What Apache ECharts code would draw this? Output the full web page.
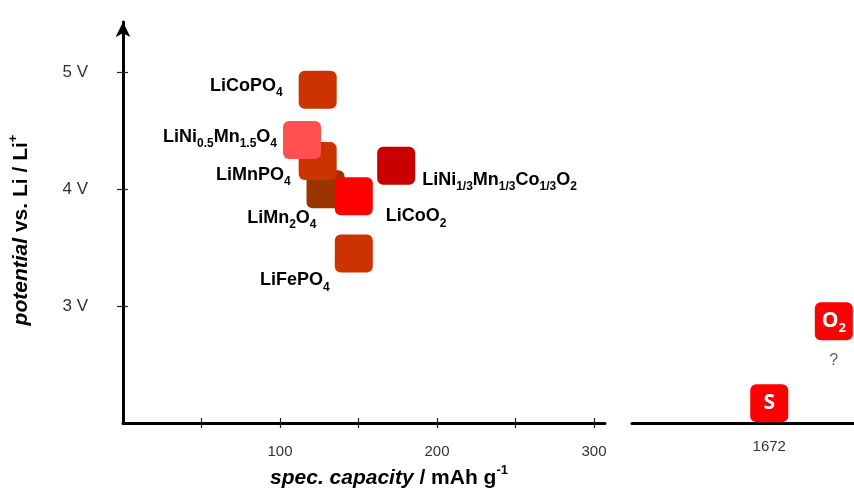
<!DOCTYPE html>
<html>
<head>
<meta charset="utf-8">
<script src="https://cdn.jsdelivr.net/npm/echarts@6/dist/echarts.min.js"></script>
<style>
html, body { margin: 0; padding: 0; background: #fff; }
#main { width: 854px; height: 488px; }
</style>
</head>
<body>
<div id="main"></div>
<script>
// cathode materials (left panel)
const materials = ['LiCoPO4', 'LiMn2O4', 'LiMnPO4', 'LiNi0.5Mn1.5O4', 'LiCoO2', 'LiNi1/3Mn1/3Co1/3O2', 'LiFePO4'];
const materialLabels = ['LiCoPO{s|4}', 'LiMn{s|2}O{s|4}', 'LiMnPO{s|4}', 'LiNi{s|0.5}Mn{s|1.5}O{s|4}', 'LiCoO{s|2}', 'LiNi{s|1/3}Mn{s|1/3}Co{s|1/3}O{s|2}', 'LiFePO{s|4}'];
const capacity = [124, 129, 124, 114, 147, 174, 147];
const potential = [4.85, 4.0, 4.24, 4.42, 3.94, 4.2, 3.45];

// conversion cathodes (right panel)
const elements = ['S', 'O2'];
const elementLabels = ['S', 'O{s|2}'];
const elementCapacity = [1672, 1800];
const elementPotential = [2.17, 2.87];

// axis ticks
const yTicks = [3, 4, 5];
const xTicks = [50, 100, 150, 200, 250, 300];
const xLabels = [100, 200, 300];
const x2Labels = [1672];

// colours
const materialColors = ['#CC3300', '#993300', '#CC3300', '#FF4F4F', '#FF0000', '#C80000', '#CC3300'];
const elementColor = '#FF0000';

// label offset from square centre: [dx, dy, align]
const labelPlace = {
    'LiCoPO4': [-35, -4, 'right'],
    'LiMn2O4': [-9, 29, 'right'],
    'LiMnPO4': [-27, 14, 'right'],
    'LiNi0.5Mn1.5O4': [-25, -3, 'right'],
    'LiCoO2': [32, 20, 'left'],
    'LiNi1/3Mn1/3Co1/3O2': [26, 14, 'left'],
    'LiFePO4': [-24, 27, 'right']
};

const SQ = 38;
const half = SQ / 2;
const squarePath = 'path://M6,0H32A6,6,0,0,1,38,6V32A6,6,0,0,1,32,38H6A6,6,0,0,1,0,32V6A6,6,0,0,1,6,0Z';
const font = '"Liberation Sans", Arial, sans-serif';
const boxFont = '"Open Sans", "Noto Sans", sans-serif';
const subRich = {
    s: { fontSize: 12, fontWeight: 'bold', fontFamily: font, color: '#000', lineHeight: 26, verticalAlign: 'bottom' }
};

const yMin = 2, yMax = 5.43;

const materialData = materials.map((m, i) => {
    const p = labelPlace[m];
    return {
        name: m,
        value: [capacity[i], potential[i]],
        itemStyle: { color: materialColors[i] },
        label: {
            formatter: materialLabels[i],
            position: [half + p[0], half + p[1]],
            align: p[2],
            verticalAlign: 'middle'
        }
    };
});

const elementData = elements.map((e, i) => ({
    name: e,
    value: [elementCapacity[i], elementPotential[i]],
    label: { formatter: elementLabels[i] }
}));

const tickStyle = { color: '#222', width: 1.2 };

const chart = echarts.init(document.getElementById('main'));
chart.setOption({
    animation: false,
    grid: [
        { left: 123, right: 249, top: 22, bottom: 65, containLabel: false, outerBoundsMode: 'none' },
        { left: 632, right: 0, top: 22, bottom: 65, containLabel: false, outerBoundsMode: 'none' }
    ],
    xAxis: [
        {
            gridIndex: 0, type: 'value', min: 0, max: 307, position: 'bottom',
            name: '{i|spec. capacity} / mAh g{sup|-1}',
            nameLocation: 'middle', nameGap: 41,
            nameTextStyle: {
                fontFamily: font, fontSize: 21, fontWeight: 'bold', color: '#000',
                lineHeight: 28, padding: [0, 0, 0, 50],
                rich: {
                    i: { fontFamily: font, fontSize: 21, fontWeight: 'bold', fontStyle: 'italic', color: '#000', lineHeight: 28 },
                    sup: { fontFamily: font, fontSize: 13, fontWeight: 'bold', color: '#000', lineHeight: 28, verticalAlign: 'top' }
                }
            },
            axisLine: { show: true, onZero: false, lineStyle: { color: '#000', width: 3 } },
            axisTick: { show: true, length: 5, customValues: xTicks, lineStyle: tickStyle },
            axisLabel: { customValues: xLabels, margin: 21, fontFamily: font, fontSize: 15, color: '#333' },
            splitLine: { show: false }
        },
        {
            gridIndex: 0, type: 'value', min: 0, max: 307, position: 'bottom',
            axisLine: { show: false },
            axisTick: { show: true, inside: true, length: 5, customValues: xTicks, lineStyle: tickStyle },
            axisLabel: { show: false },
            splitLine: { show: false }
        },
        {
            gridIndex: 1, type: 'value', min: 1400, max: 1840, position: 'bottom',
            axisLine: { show: true, onZero: false, lineStyle: { color: '#000', width: 3 } },
            axisTick: { show: false },
            axisLabel: {
                customValues: x2Labels, margin: 16, fontFamily: font, fontSize: 15, color: '#333',
                formatter: v => String(v)
            },
            splitLine: { show: false }
        }
    ],
    yAxis: [
        {
            gridIndex: 0, type: 'value', min: yMin, max: yMax, position: 'left',
            name: '{i|potential} vs. Li / Li{sup|+}',
            nameLocation: 'middle', nameGap: 88,
            nameTextStyle: {
                fontFamily: font, fontSize: 21, fontWeight: 'bold', color: '#000',
                lineHeight: 28, padding: [0, 15, 0, 0],
                rich: {
                    i: { fontFamily: font, fontSize: 21, fontWeight: 'bold', fontStyle: 'italic', color: '#000', lineHeight: 28 },
                    sup: { fontFamily: font, fontSize: 13, fontWeight: 'bold', color: '#000', lineHeight: 28, verticalAlign: 'top' }
                }
            },
            axisLine: {
                show: true, onZero: false, symbol: ['none', 'arrow'], symbolSize: [11, 15],
                lineStyle: { color: '#000', width: 3 }
            },
            axisTick: { show: true, length: 6, customValues: yTicks, lineStyle: tickStyle },
            axisLabel: {
                customValues: yTicks, margin: 35, fontFamily: font, fontSize: 17, color: '#333',
                formatter: v => v + ' V'
            },
            splitLine: { show: false }
        },
        {
            gridIndex: 0, type: 'value', min: yMin, max: yMax, position: 'left',
            axisLine: { show: false },
            axisTick: { show: true, inside: true, length: 5, customValues: yTicks, lineStyle: tickStyle },
            axisLabel: { show: false },
            splitLine: { show: false }
        },
        {
            gridIndex: 1, type: 'value', min: yMin, max: yMax, show: false
        }
    ],
    series: [
        {
            type: 'scatter', xAxisIndex: 0, yAxisIndex: 0,
            symbol: squarePath, symbolSize: SQ,
            itemStyle: { opacity: 1 },
            label: {
                show: true, fontFamily: font, fontSize: 18, fontWeight: 'bold', color: '#000',
                lineHeight: 26, rich: subRich
            },
            data: materialData
        },
        {
            type: 'scatter', xAxisIndex: 2, yAxisIndex: 2,
            symbol: squarePath, symbolSize: SQ,
            itemStyle: { color: elementColor, opacity: 1 },
            label: {
                show: true, position: 'inside', fontFamily: boxFont,
                fontSize: 21, fontWeight: 'bold', color: '#fff', lineHeight: 28,
                rich: {
                    s: { fontFamily: boxFont, fontSize: 13, fontWeight: 'bold', color: '#fff', lineHeight: 28, verticalAlign: 'bottom' }
                }
            },
            data: elementData
        },
        {
            // unknown capacity marker under O2
            type: 'scatter', xAxisIndex: 2, yAxisIndex: 2,
            symbol: 'rect', symbolSize: SQ, itemStyle: { color: 'rgba(0,0,0,0)' },
            label: {
                show: true, position: 'bottom', distance: 12, formatter: '?',
                fontFamily: font, fontSize: 16, color: '#333'
            },
            data: [[elementCapacity[1], elementPotential[1]]]
        }
    ]
});
</script>
</body>
</html>
